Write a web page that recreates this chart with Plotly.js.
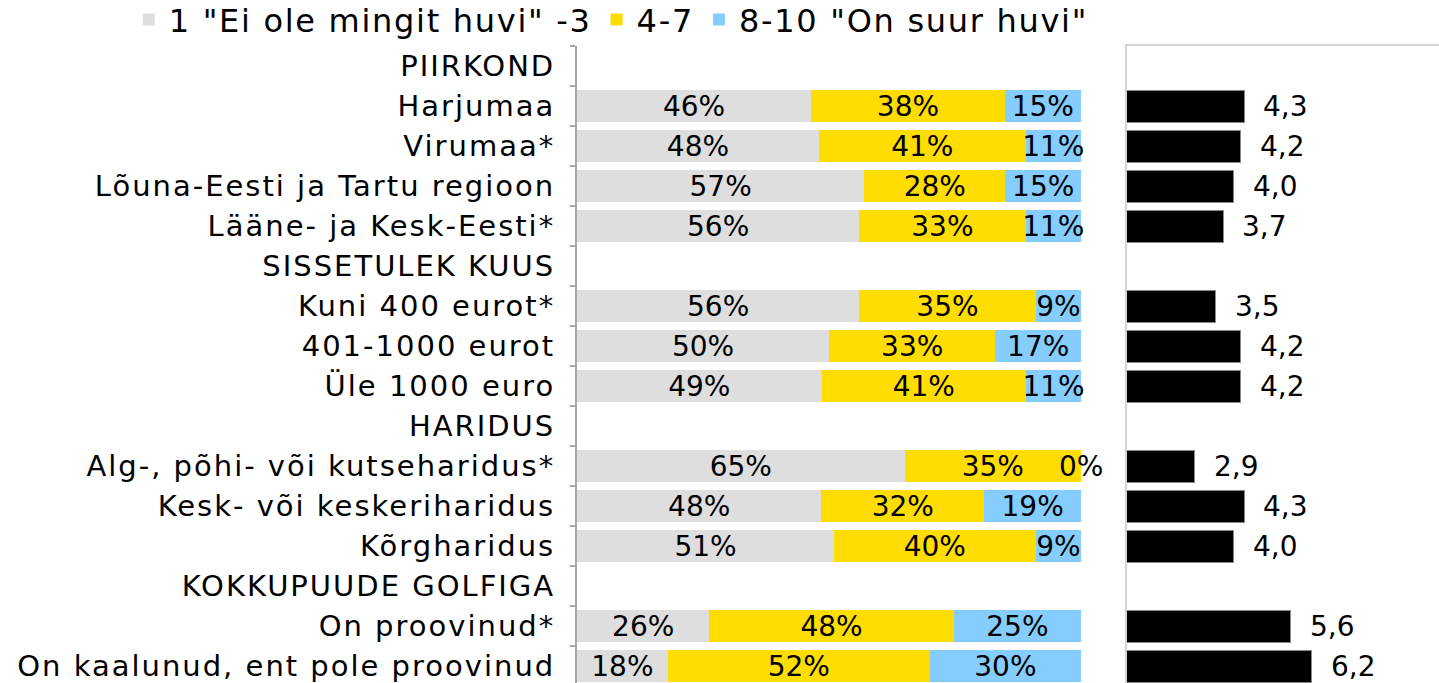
<!DOCTYPE html>
<html><head><meta charset="utf-8">
<script src="https://cdn.plot.ly/plotly-3.0.1.min.js"></script>
<style>html,body{margin:0;padding:0;overflow:hidden;background:#fff}#c{width:1439px;height:700px;margin-top:-10px}
.ytick text{letter-spacing:2px}
.legendtext{letter-spacing:1.7px}
</style>
</head><body><div id="c"></div><script>
const categories = ["PIIRKOND","Harjumaa","Virumaa*","Lõuna-Eesti ja Tartu regioon","Lääne- ja Kesk-Eesti*","SISSETULEK KUUS","Kuni 400 eurot*","401-1000 eurot","Üle 1000 euro","HARIDUS","Alg-, põhi- või kutseharidus*","Kesk- või keskeriharidus","Kõrgharidus","KOKKUPUUDE GOLFIGA","On proovinud*","On kaalunud, ent pole proovinud"];
const seriesNames = ['1 "Ei ole mingit huvi" -3','4-7','8-10 "On suur huvi"'];
const lowVals  = [null,46,48,57,56,null,56,50,49,null,65,48,51,null,26,18];
const midVals  = [null,38,41,28,33,null,35,33,41,null,35,32,40,null,48,52];
const highVals = [null,15,11,15,11,null,9,17,11,null,0,19,9,null,25,30];
const meanVals = [null,4.3,4.2,4.0,3.7,null,3.5,4.2,4.2,null,2.9,4.3,4.0,null,5.6,6.2];

const colors = ['#DEDEDE','#FFDD00','#85CCFF'];
const FONT = '"DejaVu Sans", sans-serif';
const series = [lowVals, midVals, highVals];
const totals = categories.map((c,i)=> series.reduce((s,a)=> s + (a[i]||0), 0));
const traces = series.map((vals,k)=>({
  type:'bar', orientation:'h', name:seriesNames[k], y:categories,
  x: vals.map((v,i)=> v==null?null: v/totals[i]*100),
  text: vals.map(v=> (v==null||v===0)?'':v+'%'),
  textposition:'inside', insidetextanchor:'middle', textangle:0, constraintext:'none',
  textfont:{family:FONT,size:28,color:'#000'},
  marker:{color:colors[k]}, hoverinfo:'skip', xaxis:'x', yaxis:'y', cliponaxis:false
}));
traces.push({
  type:'bar', orientation:'h', y:categories, x:meanVals, showlegend:false,
  marker:{color:'#000', line:{color:'#888',width:1}}, hoverinfo:'skip', xaxis:'x2', yaxis:'y2'
});
const annotations = [];
highVals.forEach((v,i)=>{ if(v===0){ annotations.push({x:totals[i]?100:0, y:categories[i], xref:'x', yref:'y', text:'0%', showarrow:false, xanchor:'center', font:{family:FONT,size:28,color:'#000'}}); }});
meanVals.forEach((v,i)=>{ if(v!=null){ annotations.push({x:v, y:categories[i], xref:'x2', yref:'y2', text:v.toFixed(1).replace('.',','), showarrow:false, xanchor:'left', xshift:17, font:{family:FONT,size:28,color:'#000'}}); }});
const layout = {
  width:1439, height:700, margin:{l:577,r:0,t:56,b:4},
  paper_bgcolor:'#fff', plot_bgcolor:'rgba(0,0,0,0)',
  barmode:'stack', bargap:0.2, font:{family:FONT,size:28,color:'#000'},
  showlegend:true,
  legend:{orientation:'h', x:-0.520, xanchor:'left', y:1.084, yanchor:'top', font:{family:FONT,size:32,color:'#000'}, traceorder:'normal', bgcolor:'rgba(0,0,0,0)'},
  xaxis:{domain:[0,0.5847], range:[0,100], showgrid:false, zeroline:false, showticklabels:false, showline:false, fixedrange:true},
  yaxis:{type:'category', categoryorder:'array', categoryarray:categories, autorange:'reversed', tickson:'boundaries', ticks:'outside', ticklen:5, tickcolor:'#a6a6a6', tickwidth:2, showline:true, linecolor:'#a6a6a6', linewidth:2, showgrid:false, ticklabelstandoff:14, tickfont:{family:FONT,size:29,color:'#000'}},
  xaxis2:{domain:[0.638,1], anchor:'y2', range:[1,9.77], side:'top', showline:true, linecolor:'#d4d4d4', linewidth:2, showgrid:false, zeroline:false, showticklabels:false, ticks:''},
  yaxis2:{anchor:'x2', matches:'y', showline:true, linecolor:'#d4d4d4', linewidth:2, showgrid:false, showticklabels:false, ticks:''},
  annotations:annotations
};
Plotly.newPlot('c', traces, layout, {displayModeBar:false, staticPlot:true});
</script></body></html>
